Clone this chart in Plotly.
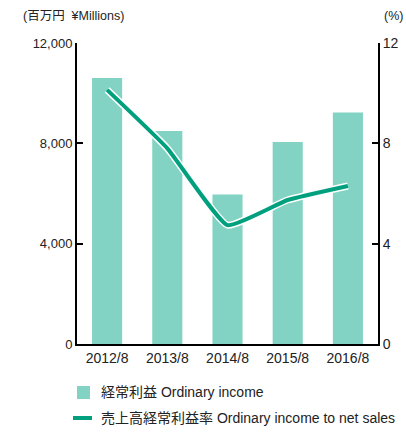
import plotly.graph_objects as go

years = ["2012/8", "2013/8", "2014/8", "2015/8", "2016/8"]
ordinary_income = [10600, 8490, 5960, 8050, 9230]
income_ratio = [10.13, 7.8, 4.74, 5.74, 6.3]
left_ticks = [0, 4000, 8000, 12000]
left_labels = ["0", "4,000", "8,000", "12,000"]
right_ticks = [0, 4, 8, 12]
legend_labels = ["経常利益 Ordinary income", "売上高経常利益率 Ordinary income to net sales"]

BAR = "#82D3C3"
LINE = "#00A07F"
TXT = "#222"
FONT = "Liberation Sans, Arial, Noto Sans CJK JP, sans-serif"

fig = go.Figure()
fig.add_trace(go.Bar(x=years, y=ordinary_income, name=legend_labels[0],
                     marker=dict(color=BAR, line=dict(width=0)), width=0.5))
fig.add_trace(go.Scatter(x=years, y=income_ratio, yaxis="y2", mode="lines",
                         line=dict(color="white", width=7, shape="spline", smoothing=0.4),
                         showlegend=False, hoverinfo="skip"))
fig.add_trace(go.Scatter(x=years, y=income_ratio, yaxis="y2", mode="lines",
                         name=legend_labels[1],
                         line=dict(color=LINE, width=4, shape="spline", smoothing=0.4)))

# plot area: x 77..378 px, y 43..344 px (301 x 301)
def px(x):
    return (x - 77) / 301.0

def py(y):
    return (344 - y) / 301.0

shapes = [
    dict(type="rect", xref="paper", yref="paper", x0=px(77), x1=px(90), y0=py(399), y1=py(386),
         fillcolor=BAR, line=dict(width=0)),
    dict(type="line", xref="paper", yref="paper", x0=px(73), x1=px(92), y0=py(418), y1=py(418),
         line=dict(color=LINE, width=4)),
]

annotations = [
    dict(text="(百万円  ¥Millions)", xref="paper", yref="paper", x=px(21), y=py(16),
         xanchor="left", yanchor="middle", showarrow=False, font=dict(size=12.5, color=TXT)),
    dict(text="(%)", xref="paper", yref="paper", x=px(405), y=py(16),
         xanchor="right", yanchor="middle", showarrow=False, font=dict(size=12.5, color=TXT)),
    dict(text=legend_labels[0], xref="paper", yref="paper", x=px(99), y=py(392),
         xanchor="left", yanchor="middle", showarrow=False, font=dict(size=14, color=TXT)),
    dict(text=legend_labels[1], xref="paper", yref="paper", x=px(99), y=py(418),
         xanchor="left", yanchor="middle", showarrow=False, font=dict(size=14, color=TXT)),
]

fig.update_layout(
    width=406, height=432,
    margin=dict(l=77, r=28, t=43, b=88, autoexpand=False),
    paper_bgcolor="white", plot_bgcolor="white",
    font=dict(family=FONT, size=13, color=TXT),
    showlegend=False,
    xaxis=dict(showline=True, linecolor="black", linewidth=2, ticks="",
               tickfont=dict(size=14), showgrid=False, mirror=False),
    yaxis=dict(range=[0, 12000], tickvals=left_ticks, ticktext=left_labels,
               showline=True, linecolor="black", linewidth=2, ticks="inside",
               ticklen=6, tickwidth=2, tickcolor="black", showgrid=False,
               zeroline=False, tickfont=dict(size=13)),
    yaxis2=dict(range=[0, 12], tickvals=right_ticks, overlaying="y", side="right",
                showline=True, linecolor="black", linewidth=2, ticks="inside",
                ticklen=6, tickwidth=2, tickcolor="black", showgrid=False,
                zeroline=False, tickfont=dict(size=14)),
    shapes=shapes,
    annotations=annotations,
    bargap=0.5,
)

fig.write_html("out.html", config={"displayModeBar": False},
               post_script="document.body.style.margin='0';document.body.style.padding='0';")
